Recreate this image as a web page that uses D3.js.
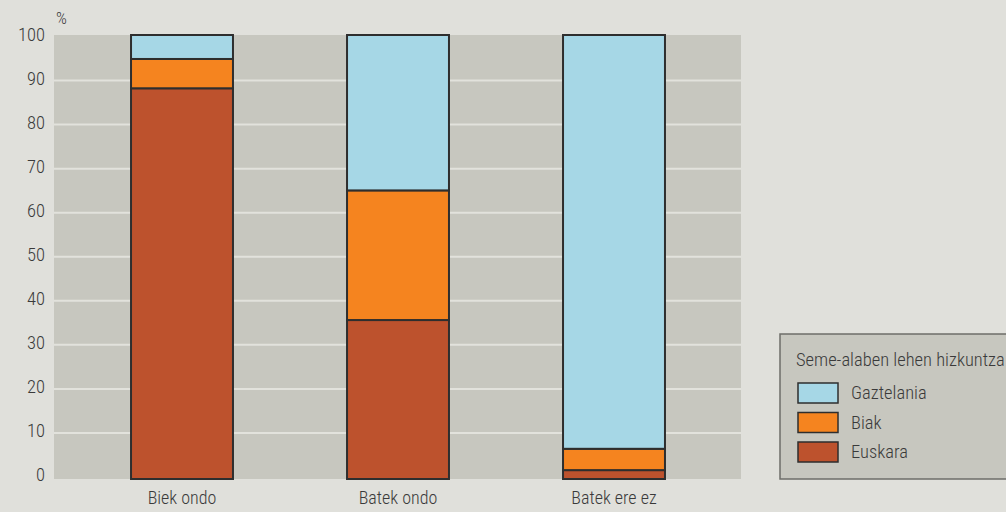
<!DOCTYPE html>
<html><head><meta charset="utf-8">
<script src="https://cdn.jsdelivr.net/npm/d3@7"></script>
<style>
body{margin:0;background:#e0e0db;}
text{font-family:"Liberation Sans Narrow","Arial Narrow","Roboto Condensed","Liberation Sans",sans-serif;fill:#3a3a3a;font-weight:300;}
</style></head>
<body><svg id="c" width="1006" height="512"></svg>
<script>
const categories = ["Biek ondo", "Batek ondo", "Batek ere ez"];
const seriesNames = ["Euskara", "Biak", "Gaztelania"];
const euskara = [88.0, 35.8, 2.0];
const biak = [6.6, 29.2, 4.8];
const gaztelania = [5.4, 35.0, 93.2];
const yTicks = [0, 10, 20, 30, 40, 50, 60, 70, 80, 90, 100];
const colors = {"Euskara": "#bd522d", "Biak": "#f5841f", "Gaztelania": "#a6d7e6"};
const legendTitle = "Seme-alaben lehen hizkuntza";
const legendOrder = ["Gaztelania", "Biak", "Euskara"];

const svg = d3.select("#c");
const plot = {left: 54, right: 741, top: 35, bottom: 479};

const rows = categories.map((c, i) => ({cat: c, Euskara: euskara[i], Biak: biak[i], Gaztelania: gaztelania[i]}));
const stacked = d3.stack().keys(seriesNames)(rows);

const x = d3.scaleBand().domain(categories).range([74, 722]).paddingInner(0.528).paddingOuter(0.264);
const y = d3.scaleLinear().domain([0, 100]).range([477, 36.5]);

svg.append("rect").attr("x", plot.left).attr("y", plot.top)
  .attr("width", plot.right - plot.left).attr("height", plot.bottom - plot.top)
  .attr("fill", "#c7c7bf");

svg.append("g").selectAll("line").data(yTicks.filter(t => t > 0 && t < 100)).join("line")
  .attr("x1", plot.left).attr("x2", plot.right)
  .attr("y1", d => y(d)).attr("y2", d => y(d))
  .attr("stroke", "#e2e2dc").attr("stroke-width", 2);

const yAxis = svg.append("g").attr("transform", `translate(${plot.left},0)`)
  .call(d3.axisLeft(y).tickValues(yTicks).tickSize(0).tickPadding(9));
yAxis.select(".domain").remove();
yAxis.selectAll("text").attr("font-size", 18.5).attr("dy", "0.2em").style("font-family", null);

svg.append("text").attr("x", 56).attr("y", 24).attr("font-size", 17).text("%");

// bars: extend to full plot height
const yb = d3.scaleLinear().domain([0, 100]).range([479, 35]);
svg.append("g").selectAll("g").data(stacked).join("g")
  .attr("fill", d => colors[d.key])
  .selectAll("rect").data(d => d).join("rect")
  .attr("x", d => x(d.data.cat))
  .attr("width", x.bandwidth())
  .attr("y", d => yb(d[1]))
  .attr("height", d => yb(d[0]) - yb(d[1]))
  .attr("stroke", "#2e2e2e").attr("stroke-width", 2);

const xAxis = svg.append("g").attr("transform", `translate(0,${plot.bottom})`)
  .call(d3.axisBottom(x).tickSize(0).tickPadding(12));
xAxis.select(".domain").remove();
xAxis.selectAll("text").attr("font-size", 18).style("font-family", null);

// legend
const lg = svg.append("g");
lg.append("rect").attr("x", 780).attr("y", 334).attr("width", 240).attr("height", 145)
  .attr("fill", "#c7c7bf").attr("stroke", "#6e6e6a").attr("stroke-width", 1.5);
lg.append("text").attr("x", 796).attr("y", 366).attr("font-size", 18.5).text(legendTitle);
const items = lg.selectAll("g.item").data(legendOrder).join("g").attr("class", "item")
  .attr("transform", (d, i) => `translate(798,${383 + i * 29.5})`);
items.append("rect").attr("width", 40).attr("height", 20)
  .attr("fill", d => colors[d]).attr("stroke", "#2e2e2e").attr("stroke-width", 1.5);
items.append("text").attr("x", 53).attr("y", 16).attr("font-size", 18.5).text(d => d);
</script></body></html>
